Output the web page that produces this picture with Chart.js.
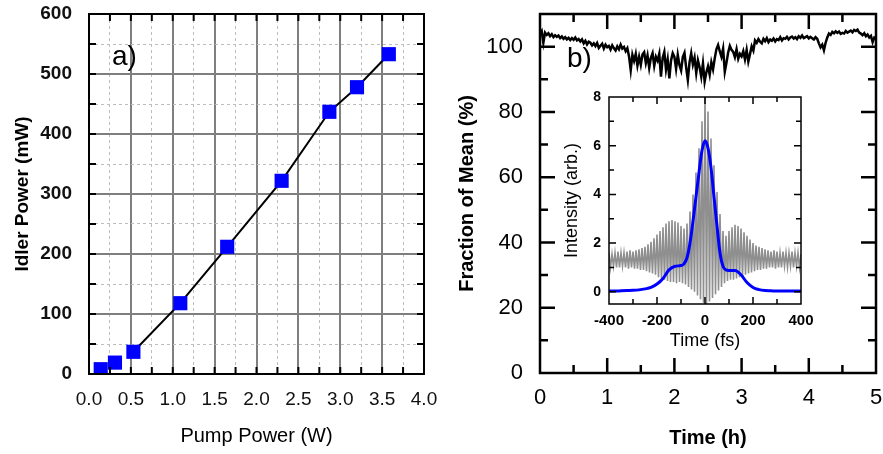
<!DOCTYPE html>
<html>
<head>
<meta charset="utf-8">
<script src="https://cdn.jsdelivr.net/npm/chart.js@4.4.0/dist/chart.umd.min.js"></script>
<style>
body { margin: 0; background: #fff; }
#wrap { position: relative; width: 883px; height: 454px; }
canvas { position: absolute; }
</style>
</head>
<body>
<div id="wrap">
<canvas id="pump" width="441" height="454" style="left:0;top:0"></canvas>
<canvas id="stability" width="442" height="454" style="left:441px;top:0"></canvas>
<canvas id="autocorr" width="270" height="275" style="left:545px;top:85px"></canvas>
</div>
<script>
// panel a) idler power vs pump power
const pumpPower = [0.14, 0.31, 0.53, 1.09, 1.65, 2.30, 2.87, 3.20, 3.58];
const idlerPower = [8, 19, 37, 118, 212, 322, 437, 478, 533];
const fitFrom = 2; // the black line starts at the third point

// panel b) power stability over 5 h, one sample every 0.025 h
const traceStep = 0.025;
const fractionOfMean = [
  104.0, 104.8, 101.2, 104.3, 103.6, 104.1, 103.2, 103.8, 102.9, 103.5,
  103.0, 103.4, 102.6, 103.1, 102.4, 102.9, 102.2, 102.7, 102.0, 102.6,
  102.1, 102.8, 101.9, 102.3, 101.6, 102.2, 101.0, 101.8, 100.7, 101.5,
  101.2, 100.4, 101.0, 100.2, 101.1, 99.6, 100.3, 100.9, 99.4, 100.6,
  99.8, 100.2, 99.1, 100.4, 99.5, 98.8, 100.1, 99.2, 100.6, 99.4,
  99.9, 98.6, 99.5, 97.0, 92.8, 97.5, 95.6, 97.8, 94.2, 96.9,
  94.4, 97.6, 98.3, 95.0, 97.3, 93.5, 96.6, 98.0, 94.1, 96.9,
  95.7, 97.8, 90.8, 96.5, 98.4, 93.0, 96.1, 90.3, 95.8, 98.0,
  96.9, 93.2, 97.5, 94.4, 92.7, 96.8, 98.1, 93.6, 89.8, 95.2,
  98.0, 94.5, 96.6, 91.9, 95.8, 93.7, 90.8, 94.9, 89.3, 92.1,
  94.0, 91.4, 95.2, 93.0, 96.4, 99.2, 100.5, 98.6, 96.9, 99.4,
  92.3, 95.1, 98.2, 100.2, 99.0, 98.4, 96.8, 99.2, 96.3, 97.8,
  97.0, 98.6, 96.1, 99.0, 95.4, 97.7, 100.1, 98.8, 101.9, 101.2,
  102.3, 101.5, 101.0, 102.4, 101.7, 102.6, 101.4, 102.2, 101.8, 102.5,
  101.6, 102.3, 102.0, 102.9, 101.9, 102.6, 102.4, 103.0, 102.2, 102.8,
  103.1, 102.5, 102.9, 102.3, 103.2, 102.7, 103.4, 102.6, 102.9, 103.2,
  102.5, 103.0, 102.6, 102.2, 102.9, 102.4, 101.0, 99.8, 100.6, 98.9,
  101.2, 102.8, 104.0, 103.6, 104.5, 104.1, 104.7, 104.2, 104.6, 103.9,
  104.2, 104.0, 104.8, 104.3, 104.6, 104.9, 104.4, 105.1, 104.8, 105.2,
  104.3, 104.0, 103.5, 104.1, 103.2, 103.7, 102.8, 103.3, 101.4, 102.8,
  102.5
];

// inset: interferometric autocorrelation, fringe extremes every 6.25 fs
const fringeStart = -400;
const fringeStep = 6.25;
const fringeValues = [
  1.6, 1.0, 1.55, 1.05, 1.6, 1.0, 1.65, 1.0, 1.6, 1.05,
  1.6, 1.0, 1.65, 0.95, 1.7, 1.0, 1.65, 0.95, 1.7, 0.95,
  1.75, 0.9, 1.8, 0.9, 1.85, 0.85, 1.95, 0.8, 2.05, 0.75,
  2.2, 0.7, 2.35, 0.6, 2.5, 0.55, 2.65, 0.5, 2.8, 0.45,
  2.9, 0.4, 2.95, 0.4, 2.9, 0.35, 2.85, 0.4, 2.7, 0.35,
  2.6, 0.3, 2.8, 0.2, 3.3, 0.1, 4.0, 0.0, 4.9, -0.15,
  5.9, -0.3, 7.0, -0.45, 8.1, -0.5, 7.4, -0.4, 6.3, -0.25,
  5.2, -0.1, 4.1, 0.05, 3.2, 0.2, 2.5, 0.35, 2.3, 0.45,
  2.5, 0.5, 2.65, 0.5, 2.75, 0.55, 2.7, 0.6, 2.6, 0.65,
  2.45, 0.7, 2.3, 0.75, 2.15, 0.8, 2.0, 0.85, 1.9, 0.9,
  1.85, 0.9, 1.8, 0.95, 1.75, 0.95, 1.7, 1.0, 1.65, 1.0,
  1.7, 0.95, 1.65, 1.0, 1.6, 1.0, 1.65, 1.05, 1.6, 1.0,
  1.6, 1.05, 1.65, 1.0, 1.6, 1.05, 1.6, 1.0, 1.55
];
// inset: intensity (blue)
const intensityTimes = [-400, -375, -350, -325, -300, -275, -250, -225, -200, -175, -150, -125, -100, -87.5, -75, -62.5, -50, -37.5, -25, -12.5,
  0, 12.5, 25, 37.5, 50, 62.5, 75, 87.5, 100, 125, 150, 175, 200, 225, 250, 275, 300, 350, 400];
const intensityValues = [0.03, 0.03, 0.04, 0.05, 0.06, 0.08, 0.12, 0.18, 0.32, 0.55, 0.9, 1.05, 1.08, 1.15, 1.4, 2.0, 2.9, 3.9, 4.9, 5.8,
  6.2, 5.9, 5.1, 3.9, 2.7, 1.6, 1.05, 0.9, 0.88, 0.88, 0.7, 0.38, 0.18, 0.09, 0.05, 0.04, 0.03, 0.03, 0.03];
const insetYTicks = [0, 1, 2, 3, 4, 5, 6, 7, 8];

Chart.defaults.font.family = '"Liberation Sans", Arial, sans-serif';
Chart.defaults.color = '#000';

const isMult = (v, m) => Math.abs(v / m - Math.round(v / m)) < 1e-6;

// fixed axis size, no extra room for labels overhanging the ends
function fixSize(prop, size) {
  return s => {
    s[prop] = size;
    s.paddingLeft = s.paddingRight = s.paddingTop = s.paddingBottom = 0;
  };
}

// ticks pointing into the plot on all four sides, frame and panel tag
const insideTicks = {
  id: 'insideTicks',
  afterDatasetsDraw(chart, args, opts) {
    const {ctx, chartArea: a, scales} = chart;
    const eps = 1e-6;
    ctx.save();
    ctx.strokeStyle = '#000';
    ctx.lineWidth = opts.width;
    ctx.beginPath();
    for (const t of scales.x.ticks) {
      if (t.value <= scales.x.min + eps || t.value >= scales.x.max - eps) continue;
      const px = scales.x.getPixelForValue(t.value);
      const len = t.label ? opts.major : opts.minor;
      ctx.moveTo(px, a.bottom); ctx.lineTo(px, a.bottom - len);
      ctx.moveTo(px, a.top); ctx.lineTo(px, a.top + len);
    }
    for (const t of scales.y.ticks) {
      if (t.value <= scales.y.min + eps || t.value >= scales.y.max - eps) continue;
      const py = scales.y.getPixelForValue(t.value);
      const len = t.label ? opts.major : opts.minor;
      ctx.moveTo(a.left, py); ctx.lineTo(a.left + len, py);
      ctx.moveTo(a.right, py); ctx.lineTo(a.right - len, py);
    }
    ctx.stroke();
    ctx.lineWidth = opts.frame;
    ctx.strokeRect(a.left, a.top, a.width, a.height);
    if (opts.tag) {
      ctx.fillStyle = '#000';
      ctx.font = opts.tagFont;
      ctx.textBaseline = 'middle';
      ctx.fillText(opts.tag, a.left + opts.tagX, a.top + opts.tagY);
    }
    ctx.restore();
  }
};

// panel a)
new Chart(document.getElementById('pump'), {
  type: 'scatter',
  data: {
    datasets: [{
      data: pumpPower.map((x, i) => ({x: x, y: idlerPower[i]})),
      pointStyle: 'rect',
      pointRadius: 10,
      pointHoverRadius: 10,
      backgroundColor: '#0000ff',
      borderWidth: 0
    }, {
      data: pumpPower.slice(fitFrom).map((x, i) => ({x: x, y: idlerPower[i + fitFrom]})),
      showLine: true,
      borderColor: '#000',
      borderWidth: 2,
      pointRadius: 0
    }]
  },
  options: {
    responsive: false,
    animation: false,
    layout: {padding: {top: 14, right: 17, left: 0, bottom: 0}},
    plugins: {
      legend: {display: false},
      tooltip: {enabled: false},
      insideTicks: {major: 7, minor: 7, width: 2, frame: 2, tag: 'a)', tagX: 23, tagY: 43, tagFont: '28px "Liberation Sans", Arial, sans-serif'}
    },
    scales: {
      x: {
        min: 0, max: 4,
        ticks: {stepSize: 0.25, autoSkip: false, maxRotation: 0, padding: 14, font: {size: 19}, color: '#111',
          callback: v => isMult(v, 0.5) ? v.toFixed(1) : ''},
        grid: {drawTicks: false,
          color: c => isMult(c.tick.value, 0.5) ? '#7f7f7f' : '#bdbdbd',
          lineWidth: c => isMult(c.tick.value, 0.5) ? 2 : 1},
        border: {display: false, dash: c => (c.tick && !isMult(c.tick.value, 0.5)) ? [3, 3] : []},
        title: {display: true, text: 'Pump Power (W)', font: {size: 20}, padding: {top: 0, bottom: 6}},
        afterFit: fixSize('height', 80)
      },
      y: {
        min: 0, max: 600,
        ticks: {stepSize: 50, autoSkip: false, padding: 17, font: {size: 19, weight: 'bold'}, color: '#111',
          callback: v => isMult(v, 100) ? String(v) : ''},
        grid: {drawTicks: false,
          color: c => isMult(c.tick.value, 100) ? '#7f7f7f' : '#bdbdbd',
          lineWidth: c => isMult(c.tick.value, 100) ? 2 : 1},
        border: {display: false, dash: c => (c.tick && !isMult(c.tick.value, 100)) ? [3, 3] : []},
        title: {display: true, text: 'Idler Power (mW)', font: {size: 19, weight: 'bold'}, padding: {top: 11, bottom: 0}},
        afterFit: fixSize('width', 89)
      }
    }
  },
  plugins: [insideTicks]
});

// panel b)
new Chart(document.getElementById('stability'), {
  type: 'scatter',
  data: {
    datasets: [{
      data: fractionOfMean.map((v, i) => ({x: i * traceStep, y: v})),
      showLine: true,
      borderColor: '#000',
      borderWidth: 2.5,
      pointRadius: 0
    }]
  },
  options: {
    responsive: false,
    animation: false,
    layout: {padding: {top: 14, right: 7, left: 0, bottom: 0}},
    plugins: {
      legend: {display: false},
      tooltip: {enabled: false},
      insideTicks: {major: 15, minor: 8, width: 2.5, frame: 2.5, tag: 'b)', tagX: 27, tagY: 45, tagFont: '28px "Liberation Sans", Arial, sans-serif'}
    },
    scales: {
      x: {
        min: 0, max: 5,
        ticks: {stepSize: 0.5, autoSkip: false, maxRotation: 0, padding: 12, font: {size: 22},
          callback: v => isMult(v, 1) ? String(v) : ''},
        grid: {display: false, drawTicks: false},
        border: {display: false},
        title: {display: true, text: 'Time (h)', font: {size: 20, weight: 'bold'}, padding: {top: 0, bottom: 4}},
        afterFit: fixSize('height', 81)
      },
      y: {
        min: 0, max: 110,
        ticks: {stepSize: 10, autoSkip: false, padding: 17, font: {size: 22},
          callback: v => isMult(v, 20) ? String(v) : ''},
        grid: {display: false, drawTicks: false},
        border: {display: false},
        title: {display: true, text: 'Fraction of Mean (%)', font: {size: 20, weight: 'bold'}, padding: {top: 14, bottom: 0}},
        afterFit: fixSize('width', 99)
      }
    }
  },
  plugins: [insideTicks]
});

// inset
new Chart(document.getElementById('autocorr'), {
  type: 'scatter',
  data: {
    datasets: [{
      data: intensityTimes.map((t, i) => ({x: t, y: intensityValues[i]})),
      showLine: true,
      borderColor: '#0000ff',
      borderWidth: 3,
      pointRadius: 0,
      cubicInterpolationMode: 'monotone'
    }, {
      data: fringeValues.map((v, i) => ({x: fringeStart + i * fringeStep, y: v})),
      showLine: true,
      borderColor: '#8f8f8f',
      borderWidth: 1.6,
      pointRadius: 0
    }]
  },
  options: {
    responsive: false,
    animation: false,
    layout: {padding: {top: 12, right: 14, left: 0, bottom: 0}},
    plugins: {
      legend: {display: false},
      tooltip: {enabled: false},
      insideTicks: {major: 7, minor: 5, width: 1.5, frame: 1.5}
    },
    scales: {
      x: {
        min: -400, max: 400,
        ticks: {stepSize: 100, autoSkip: false, maxRotation: 0, padding: 8, font: {size: 15, weight: 'bold'},
          callback: v => isMult(v, 200) ? String(v) : ''},
        grid: {display: false, drawTicks: false},
        border: {display: false},
        title: {display: true, text: 'Time (fs)', font: {size: 18}, padding: {top: 0, bottom: 8}},
        afterFit: fixSize('height', 56)
      },
      y: {
        min: -0.5, max: 8,
        afterBuildTicks: s => { s.ticks = insetYTicks.map(v => ({value: v})); },
        ticks: {autoSkip: false, padding: 8, font: {size: 14, weight: 'bold'},
          callback: v => isMult(v, 2) ? String(v) : ''},
        grid: {display: false, drawTicks: false},
        border: {display: false},
        title: {display: true, text: 'Intensity (arb.)', font: {size: 18}, padding: {top: 16, bottom: 0}},
        afterFit: fixSize('width', 64)
      }
    }
  },
  plugins: [insideTicks]
});
</script>
</body>
</html>
